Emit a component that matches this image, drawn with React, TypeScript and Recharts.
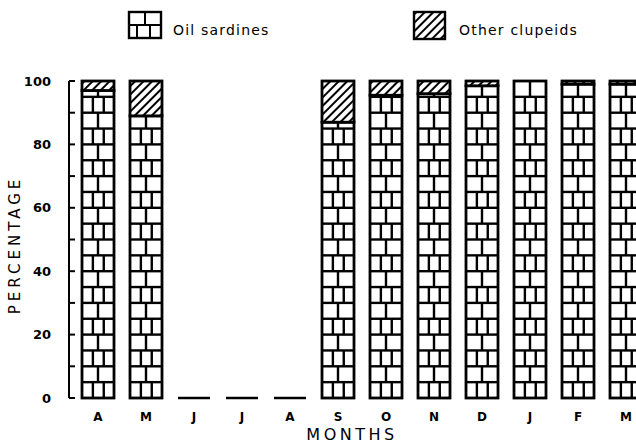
import React from 'react';
import { BarChart, Bar, XAxis, YAxis, Legend } from 'recharts';

const months = ['A', 'M', 'J', 'J', 'A', 'S', 'O', 'N', 'D', 'J', 'F', 'M'];
const oilSardines = [97, 89, 0, 0, 0, 87, 95.5, 96, 98.5, 100, 99, 99];
const otherClupeids = [3, 11, 0, 0, 0, 13, 4.5, 4, 1.5, 0, 1, 1];
const yTicks = [0, 10, 20, 30, 40, 50, 60, 70, 80, 90, 100];
const yLabelTicks = [0, 20, 40, 60, 80, 100];
const seriesNames = ['Oil sardines', 'Other clupeids'];
const axisTitles = { x: 'MONTHS', y: 'PERCENTAGE' };

const data = months.map((m, i) => ({ month: m, oil: oilSardines[i], other: otherClupeids[i] }));

const FONT = '"DejaVu Sans", "Liberation Sans", sans-serif';
const INK = '#000';

const BrickBar = (props: any) => {
  const { x, y, width, height, payload } = props;
  const v = payload.oil;
  const base = y + height;
  if (!v) {
    return <line x1={x} x2={x + width} y1={base} y2={base} stroke={INK} strokeWidth={2.5} />;
  }
  const rowH = height / (v / 5);
  const parts: any[] = [];
  let k = 0;
  for (let bot = base; bot > y + 0.5; bot -= rowH, k++) {
    const top = Math.max(y, bot - rowH);
    if (top > y + 0.5) {
      parts.push(<line key={'h' + k} x1={x} x2={x + width} y1={top} y2={top} stroke={INK} strokeWidth={2.4} />);
    }
    const divs = k % 2 === 0 ? [0.34, 0.68] : [0.5];
    divs.forEach((d, j) => {
      parts.push(
        <line key={'v' + k + '-' + j} x1={x + width * d} x2={x + width * d} y1={bot} y2={top} stroke={INK} strokeWidth={2.4} />
      );
    });
  }
  return (
    <g>
      <rect x={x} y={y} width={width} height={height} fill="#fff" />
      {parts}
      <rect x={x} y={y} width={width} height={height} fill="none" stroke={INK} strokeWidth={2.8} />
    </g>
  );
};

const HatchBar = (props: any) => {
  const { x, y, width, height, index } = props;
  if (!height || height <= 0) return null;
  const id = 'hatch-bar-' + index;
  return (
    <g>
      <defs>
        <pattern id={id} patternUnits="userSpaceOnUse" width={6} height={6} patternTransform="rotate(45)">
          <rect width={6} height={6} fill="#fff" />
          <line x1={3} y1={0} x2={3} y2={6} stroke={INK} strokeWidth={2} />
        </pattern>
      </defs>
      <rect x={x} y={y} width={width} height={height} fill={`url(#${id})`} stroke={INK} strokeWidth={2.8} />
    </g>
  );
};

const YTick = (props: any) => {
  const { x, y, payload } = props;
  const showLabel = yLabelTicks.includes(payload.value);
  return (
    <g>
      <line x1={x} x2={x + 6} y1={y} y2={y} stroke={INK} strokeWidth={2} />
      {showLabel && (
        <text x={x - 18} y={y} dy="0.36em" textAnchor="end" fontFamily={FONT} fontWeight="bold" fontSize={13} fill={INK}>
          {payload.value}
        </text>
      )}
    </g>
  );
};

const LegendContent = () => (
  <svg width={636} height={45} style={{ display: 'block' }}>
    <defs>
      <pattern id="legend-hatch" patternUnits="userSpaceOnUse" width={6} height={6} patternTransform="rotate(45)">
        <rect width={6} height={6} fill="#fff" />
        <line x1={3} y1={0} x2={3} y2={6} stroke={INK} strokeWidth={2} />
      </pattern>
    </defs>
    <g>
      <rect x={129} y={12} width={32} height={26} fill="#fff" stroke={INK} strokeWidth={2.4} />
      <line x1={129} x2={161} y1={25} y2={25} stroke={INK} strokeWidth={2} />
      <line x1={145} x2={145} y1={12} y2={25} stroke={INK} strokeWidth={2} />
      <line x1={137} x2={137} y1={25} y2={38} stroke={INK} strokeWidth={2} />
      <line x1={150} x2={150} y1={25} y2={38} stroke={INK} strokeWidth={2} />
      <text x={173} y={35} fontFamily={FONT} fontSize={14} letterSpacing={1.2} fill={INK}>{seriesNames[0]}</text>
    </g>
    <g>
      <rect x={414} y={12} width={31} height={27} fill="url(#legend-hatch)" stroke={INK} strokeWidth={2.4} />
      <text x={459} y={35} fontFamily={FONT} fontSize={14} letterSpacing={1.2} fill={INK}>{seriesNames[1]}</text>
    </g>
  </svg>
);

export default function App() {
  return (
    <div style={{ position: 'fixed', left: 0, top: 0, width: 636, height: 445, overflow: 'hidden', background: '#fff' }}>
      <BarChart
        width={680}
        height={445}
        data={data}
        margin={{ top: 36, right: 30, bottom: 0, left: 0 }}
        barSize={32}
      >
        <Legend
          layout="vertical"
          align="center"
          verticalAlign="top"
          wrapperStyle={{ position: 'absolute', top: 0, left: 0, width: 636, height: 45 }}
          content={LegendContent}
        />
        <XAxis
          dataKey="month"
          axisLine={false}
          tickLine={false}
          tickSize={0}
          tickMargin={14}
          height={47}
          padding={{ left: 5, right: 0 }}
          interval={0}
          tick={{ fontFamily: FONT, fontWeight: 'bold', fontSize: 12, fill: INK }}
          label={(p: any) => (
            <text x={352} y={440} textAnchor="middle" fontFamily={FONT} fontSize={16} letterSpacing={3.5} fill={INK}>
              {axisTitles.x}
            </text>
          )}
        />
        <YAxis
          type="number"
          domain={[0, 100]}
          ticks={yTicks}
          interval={0}
          width={69}
          tickSize={0}
          tickMargin={0}
          tickLine={false}
          axisLine={{ stroke: INK, strokeWidth: 2 }}
          tick={YTick}
          label={(p: any) => (
            <text
              x={20}
              y={245}
              transform="rotate(-90 20 245)"
              textAnchor="middle"
              fontFamily={FONT}
              fontSize={15}
              letterSpacing={4}
              fill={INK}
            >
              {axisTitles.y}
            </text>
          )}
        />
        <Bar dataKey="oil" stackId="a" isAnimationActive={false} shape={BrickBar} />
        <Bar dataKey="other" stackId="a" isAnimationActive={false} shape={HatchBar} />
      </BarChart>
    </div>
  );
}
